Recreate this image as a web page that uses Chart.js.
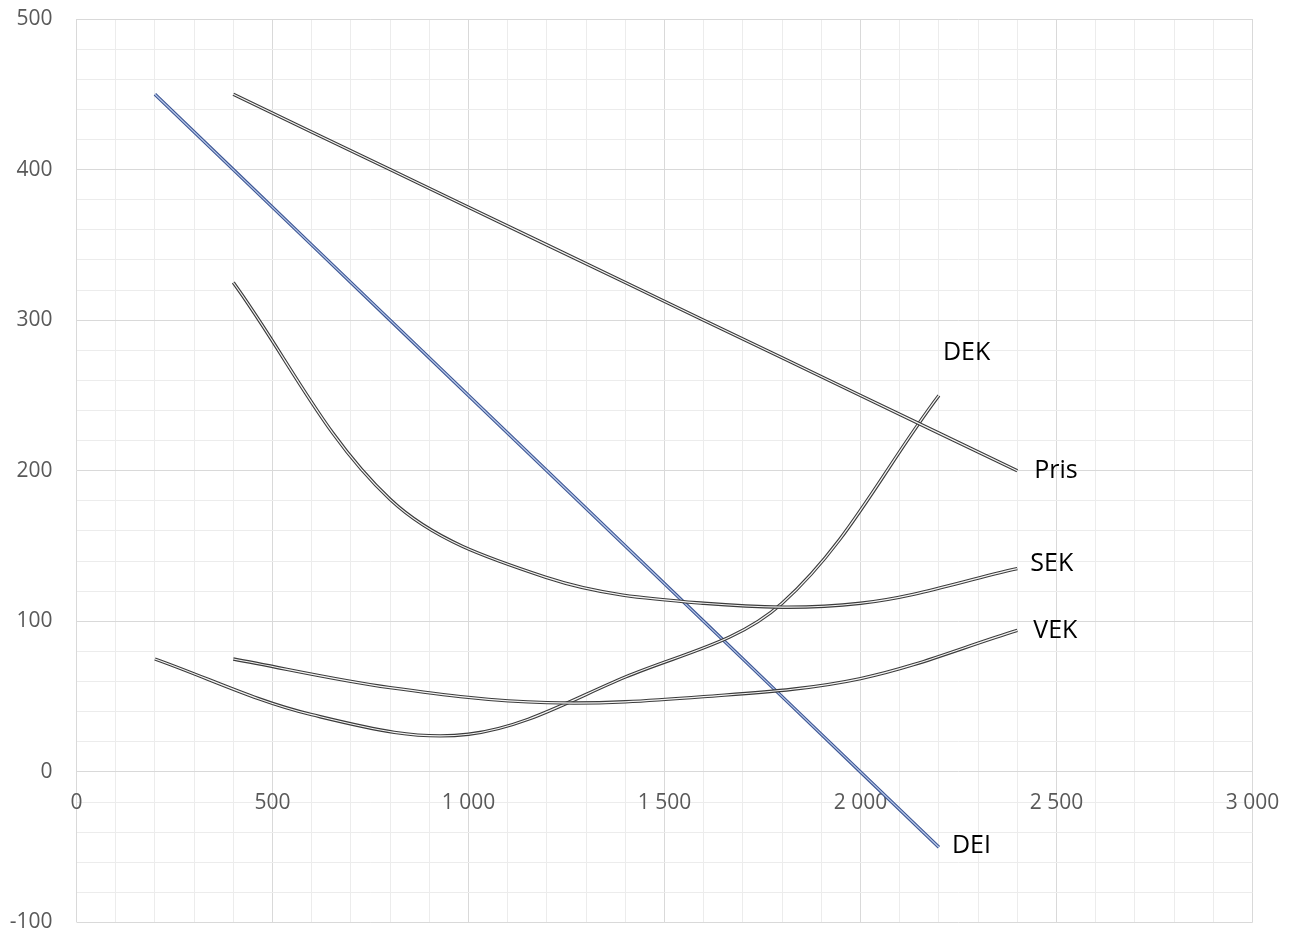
<!DOCTYPE html>
<html>
<head>
<meta charset="utf-8">
<script src="https://cdn.jsdelivr.net/npm/chart.js@4.4.1/dist/chart.umd.min.js"></script>
<style>
  html, body { margin: 0; padding: 0; background: #ffffff; }
  #chart { display: block; }
</style>
</head>
<body>
<canvas id="chart" width="1292" height="933"></canvas>
<script>
// quantities: averages at whole steps, marginal values at the midpoints
var quantities = [400, 800, 1200, 1600, 2000, 2400];
var midQuantities = [200, 600, 1000, 1400, 1800, 2200];

var pris = [450, 400, 350, 300, 250, 200];
var sek = [325, 181, 129, 112, 112, 135];
var vek = [75, 56, 46, 50, 62, 94];
var dek = [75, 38, 25, 63, 112, 250];
var dei = [450, 350, 250, 150, 50, -50];

var xMin = 0, xMax = 3000, xMajorStep = 500, xMinorStep = 100;
var yMin = -100, yMax = 500, yMajorStep = 100, yMinorStep = 20;

var GRID_MAJOR = '#d9d9d9';
var GRID_MINOR = '#ececec';
var TICK_COLOR = '#595959';
var FONT = '"Open Sans", "Noto Sans", sans-serif';

function points(xs, ys) {
  return xs.map(function (x, i) { return { x: x, y: ys[i] }; });
}

function fmtThousands(v) {
  return String(v).replace(/\B(?=(\d{3})+(?!\d))/g, ' ');
}

// each curve is drawn twice: a dark wide stroke, then a light thin one on top
// (lower `order` is painted later, so the inner stroke gets the smaller one)
function doubleLine(data, outer, inner, idx) {
  var base = {
    data: data,
    pointRadius: 0,
    pointHoverRadius: 0,
    tension: 0.35,
    fill: false,
  };
  return [
    Object.assign({}, base, { borderColor: outer, borderWidth: 3.4, order: idx * 2 + 1 }),
    Object.assign({}, base, { borderColor: inner, borderWidth: 1.2, order: idx * 2 }),
  ];
}

var series = [
  { name: 'Pris', data: points(quantities, pris), outer: '#3c3c3c', inner: '#f4f4f4', dx: 17, dy: 0 },
  { name: 'SEK', data: points(quantities, sek), outer: '#3c3c3c', inner: '#f4f4f4', dx: 13, dy: -5 },
  { name: 'VEK', data: points(quantities, vek), outer: '#3c3c3c', inner: '#f4f4f4', dx: 16, dy: 1 },
  { name: 'DEK', data: points(midQuantities, dek), outer: '#3c3c3c', inner: '#f4f4f4', dx: 4, dy: -43 },
  { name: 'DEI', data: points(midQuantities, dei), outer: '#3f5896', inner: '#b8c8e8', dx: 13, dy: -1 },
];

var datasets = [];
series.forEach(function (s, i) {
  datasets = datasets.concat(doubleLine(s.data, s.outer, s.inner, i));
});

var seriesLabels = {
  id: 'seriesLabels',
  afterDatasetsDraw: function (chart) {
    var ctx = chart.ctx;
    var xs = chart.scales.x, ys = chart.scales.y;
    ctx.save();
    ctx.font = '25px ' + FONT;
    ctx.fillStyle = '#000000';
    ctx.textAlign = 'left';
    ctx.textBaseline = 'middle';
    series.forEach(function (s) {
      var last = s.data[s.data.length - 1];
      ctx.fillText(s.name, xs.getPixelForValue(last.x) + s.dx, ys.getPixelForValue(last.y) + s.dy);
    });
    ctx.restore();
  }
};

new Chart(document.getElementById('chart'), {
  type: 'line',
  data: { datasets: datasets },
  plugins: [seriesLabels],
  options: {
    responsive: false,
    animation: false,
    events: [],
    layout: { autoPadding: false, padding: { top: 19, right: 39.5, bottom: 10.5, left: 0 } },
    plugins: {
      legend: { display: false },
      tooltip: { enabled: false },
    },
    scales: {
      x: {
        type: 'linear',
        position: { y: 0 },
        min: xMin,
        max: xMax,
        afterFit: function (scale) {
          scale.height = 0;
          scale.paddingLeft = 0;
          scale.paddingRight = 0;
        },
        border: { display: false },
        grid: {
          drawTicks: false,
          lineWidth: 1,
          color: function (c) {
            return c.tick && c.tick.value % xMajorStep === 0 ? GRID_MAJOR : GRID_MINOR;
          },
        },
        ticks: {
          stepSize: xMinorStep,
          autoSkip: false,
          maxRotation: 0,
          padding: 21,
          color: TICK_COLOR,
          font: { family: FONT, size: 21, lineHeight: 1 },
          callback: function (v) {
            return v % xMajorStep === 0 ? fmtThousands(v) : '';
          },
        },
      },
      y: {
        type: 'linear',
        position: 'left',
        min: yMin,
        max: yMax,
        border: { display: false },
        afterFit: function (scale) {
          scale.width = 76.5;
          scale.paddingTop = 0;
          scale.paddingBottom = 0;
        },
        grid: {
          drawTicks: false,
          lineWidth: 1,
          color: function (c) {
            return c.tick && c.tick.value % yMajorStep === 0 ? GRID_MAJOR : GRID_MINOR;
          },
        },
        ticks: {
          stepSize: yMinorStep,
          autoSkip: false,
          padding: 24,
          color: TICK_COLOR,
          font: { family: FONT, size: 21, lineHeight: 1 },
          callback: function (v) {
            return v % yMajorStep === 0 ? String(v) : '';
          },
        },
      },
    },
  },
});
</script>
</body>
</html>
